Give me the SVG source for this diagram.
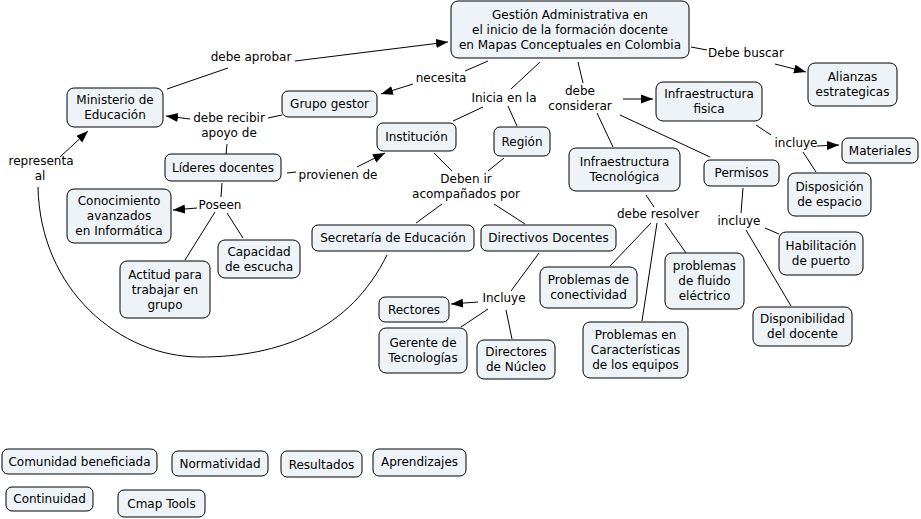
<svg xmlns="http://www.w3.org/2000/svg" width="921" height="519" viewBox="0 0 921 519">
<style>
.n rect{fill:#edf3f6;stroke:#000;stroke-width:1}
text{font-family:"DejaVu Sans",Verdana,sans-serif;font-size:12px;fill:#000;text-anchor:middle}
.c line,.c path{stroke:#000;stroke-width:1;fill:none}
.a{marker-end:url(#ah)}
</style>
<defs>
<marker id="ah" markerUnits="userSpaceOnUse" markerWidth="13" markerHeight="10" refX="12" refY="4.5" orient="auto">
<path d="M0,0 L12,4.5 L0,9 z" fill="#000"/>
</marker>
</defs>
<rect x="0" y="0" width="921" height="519" fill="#fff"/>
<g class="c" id="connectors">
<line x1="167" y1="89" x2="228" y2="68"/>
<line class="a" x1="295" y1="61" x2="448" y2="42"/>
<line x1="488" y1="61" x2="465" y2="71"/>
<line class="a" x1="413" y1="84" x2="381" y2="94"/>
<line x1="540" y1="62" x2="511" y2="89"/>
<line x1="483" y1="107" x2="453" y2="121"/>
<line x1="508" y1="106" x2="517" y2="126"/>
<line x1="578" y1="62" x2="583" y2="83"/>
<line class="a" x1="623" y1="99" x2="653" y2="99"/>
<line x1="597" y1="113" x2="613" y2="147"/>
<line x1="620" y1="115" x2="710" y2="157"/>
<line x1="691" y1="47" x2="707" y2="50"/>
<line class="a" x1="775" y1="64" x2="806" y2="72"/>
<line x1="756" y1="125" x2="771" y2="135"/>
<line class="a" x1="817" y1="146" x2="839" y2="145"/>
<line x1="803" y1="152" x2="816" y2="172"/>
<line x1="282" y1="115" x2="268" y2="118"/>
<line class="a" x1="190" y1="119" x2="166" y2="116"/>
<line x1="226" y1="154" x2="227" y2="144"/>
<line x1="287" y1="173" x2="296" y2="172"/>
<line class="a" x1="357" y1="167" x2="385" y2="153"/>
<line x1="222" y1="183" x2="221" y2="197"/>
<line class="a" x1="197" y1="208" x2="173" y2="210"/>
<line x1="215" y1="212" x2="185" y2="260"/>
<line x1="227" y1="213" x2="243" y2="238"/>
<line class="a" x1="60" y1="157" x2="88" y2="131"/>
<path d="M387,255 C350,330 280,357 200,357 C120,357 40,290 38,187"/>
<line x1="434" y1="153" x2="452" y2="171"/>
<line x1="504" y1="158" x2="488" y2="171"/>
<line x1="442" y1="204" x2="416" y2="223"/>
<line x1="494" y1="204" x2="525" y2="224"/>
<line x1="539" y1="253" x2="511" y2="291"/>
<line class="a" x1="478" y1="302" x2="451" y2="304"/>
<line x1="488" y1="309" x2="461" y2="327"/>
<line x1="506" y1="310" x2="512" y2="339"/>
<line x1="646" y1="195" x2="654" y2="207"/>
<line x1="651" y1="223" x2="610" y2="266"/>
<line x1="657" y1="223" x2="642" y2="321"/>
<line x1="665" y1="223" x2="686" y2="253"/>
<line x1="743" y1="188" x2="741" y2="213"/>
<line x1="765" y1="228" x2="779" y2="234"/>
<line x1="746" y1="230" x2="791" y2="306"/>
</g>
<g id="phrases">
<text x="251" y="61">debe aprobar</text>
<text x="441" y="82">necesita</text>
<text x="504" y="102">Inicia en la</text>
<text x="580" y="95">debe</text>
<text x="580" y="110">considerar</text>
<text x="746" y="57">Debe buscar</text>
<text x="796" y="147">incluye</text>
<text x="229" y="122">debe recibir</text>
<text x="229" y="137">apoyo de</text>
<text x="41" y="165">representa</text>
<text x="40" y="180">al</text>
<text x="338" y="179">provienen de</text>
<text x="220" y="209">Poseen</text>
<text x="466" y="183">Deben ir</text>
<text x="466" y="198">acompañados por</text>
<text x="658" y="218">debe resolver</text>
<text x="739" y="225">incluye</text>
<text x="504" y="302">Incluye</text>
</g>
<g class="n" id="gestion"><rect x="451" y="1" width="238" height="57" rx="7"/><text x="570" y="19">Gestión Administrativa en</text><text x="570" y="34">el inicio de la formación docente</text><text x="570" y="49">en Mapas Conceptuales en Colombia</text></g>
<g class="n" id="alianzas"><rect x="808" y="63" width="89" height="43" rx="7"/><text x="852.5" y="81">Alianzas</text><text x="852.5" y="96">estrategicas</text></g>
<g class="n" id="infra-fisica"><rect x="656" y="82" width="106" height="39" rx="7"/><text x="709" y="98">Infraestructura</text><text x="709" y="113">fisica</text></g>
<g class="n" id="materiales"><rect x="842" y="138" width="76" height="25" rx="6"/><text x="880" y="155">Materiales</text></g>
<g class="n" id="ministerio"><rect x="67" y="88" width="96" height="39" rx="7"/><text x="115" y="104">Ministerio de</text><text x="115" y="119">Educación</text></g>
<g class="n" id="grupo-gestor"><rect x="282" y="91" width="95" height="26" rx="6"/><text x="329.5" y="108">Grupo gestor</text></g>
<g class="n" id="institucion"><rect x="377" y="123" width="79" height="28" rx="6"/><text x="416.5" y="141">Institución</text></g>
<g class="n" id="region"><rect x="494" y="127" width="56" height="29" rx="6"/><text x="522" y="146">Región</text></g>
<g class="n" id="infra-tec"><rect x="569" y="148" width="111" height="43" rx="7"/><text x="624.5" y="166">Infraestructura</text><text x="624.5" y="181">Tecnológica</text></g>
<g class="n" id="permisos"><rect x="704" y="160" width="75" height="26" rx="6"/><text x="741.5" y="177">Permisos</text></g>
<g class="n" id="disposicion"><rect x="788" y="173" width="83" height="43" rx="7"/><text x="829.5" y="191">Disposición</text><text x="829.5" y="206">de espacio</text></g>
<g class="n" id="lideres"><rect x="165" y="154" width="116" height="27" rx="6"/><text x="223" y="172">Líderes docentes</text></g>
<g class="n" id="conocimiento"><rect x="67" y="189" width="104" height="54" rx="7"/><text x="119" y="205">Conocimiento</text><text x="119" y="220">avanzados</text><text x="119" y="235">en Informática</text></g>
<g class="n" id="secretaria"><rect x="312" y="225" width="162" height="26" rx="6"/><text x="393" y="242">Secretaría de Educación</text></g>
<g class="n" id="directivos"><rect x="481" y="225" width="135" height="26" rx="6"/><text x="548.5" y="242">Directivos Docentes</text></g>
<g class="n" id="capacidad"><rect x="218" y="240" width="82" height="38" rx="7"/><text x="259" y="255.5">Capacidad</text><text x="259" y="270.5">de escucha</text></g>
<g class="n" id="habilitacion"><rect x="779" y="232" width="84" height="43" rx="7"/><text x="821" y="250">Habilitación</text><text x="821" y="265">de puerto</text></g>
<g class="n" id="actitud"><rect x="120" y="261" width="90" height="57" rx="7"/><text x="165" y="278.5">Actitud para</text><text x="165" y="293.5">trabajar en</text><text x="165" y="308.5">grupo</text></g>
<g class="n" id="conectividad"><rect x="540" y="267" width="97" height="41" rx="7"/><text x="588.5" y="284">Problemas de</text><text x="588.5" y="299">conectividad</text></g>
<g class="n" id="fluido"><rect x="665" y="253" width="79" height="56" rx="7"/><text x="704.5" y="270">problemas</text><text x="704.5" y="285">de fluido</text><text x="704.5" y="300">eléctrico</text></g>
<g class="n" id="rectores"><rect x="379" y="297" width="70" height="25" rx="6"/><text x="414" y="314">Rectores</text></g>
<g class="n" id="gerente"><rect x="379" y="328" width="88" height="45" rx="7"/><text x="423" y="347">Gerente de</text><text x="423" y="362">Tecnologías</text></g>
<g class="n" id="directores"><rect x="477" y="340" width="78" height="39" rx="7"/><text x="516" y="356">Directores</text><text x="516" y="371">de Núcleo</text></g>
<g class="n" id="caracteristicas"><rect x="583" y="322" width="105" height="56" rx="7"/><text x="635.5" y="339">Problemas en</text><text x="635.5" y="354">Características</text><text x="635.5" y="369">de los equipos</text></g>
<g class="n" id="disponibilidad"><rect x="753" y="307" width="99" height="39" rx="7"/><text x="802.5" y="323">Disponibilidad</text><text x="802.5" y="338">del docente</text></g>
<g class="n" id="comunidad"><rect x="2" y="449" width="155" height="25" rx="6"/><text x="79.5" y="466">Comunidad beneficiada</text></g>
<g class="n" id="normatividad"><rect x="172" y="451" width="96" height="25" rx="6"/><text x="220" y="468">Normatividad</text></g>
<g class="n" id="resultados"><rect x="281" y="451" width="81" height="26" rx="6"/><text x="321.5" y="469">Resultados</text></g>
<g class="n" id="aprendizajes"><rect x="373" y="449" width="93" height="27" rx="6"/><text x="419.5" y="466">Aprendizajes</text></g>
<g class="n" id="continuidad"><rect x="6" y="487" width="87" height="24" rx="6"/><text x="49.5" y="503">Continuidad</text></g>
<g class="n" id="cmap-tools"><rect x="118" y="490" width="87" height="27" rx="6"/><text x="161.5" y="508">Cmap Tools</text></g>
</svg>
